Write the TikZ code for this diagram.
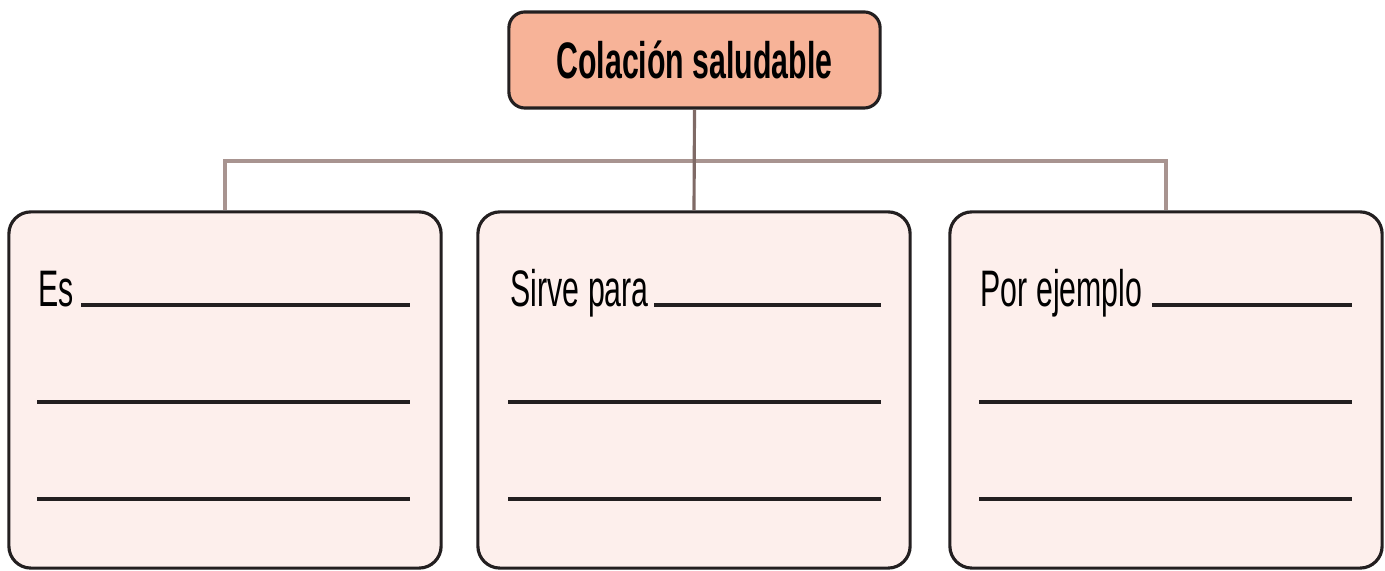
\documentclass[tikz,border=0pt]{standalone}
\usepackage{fontspec}
\setmainfont[FakeStretch=0.59]{Liberation Sans}
\usepackage{tikz}

\definecolor{salmon}{HTML}{F7B398}
\definecolor{blush}{HTML}{FDEFEC}
\definecolor{ink}{HTML}{231F20}
\definecolor{stem}{HTML}{7F6A66}
\definecolor{bar}{HTML}{A89490}

\begin{document}
\begin{tikzpicture}[x=0.01cm, y=-0.01cm,
	titlebox/.style={rectangle, rounded corners=0.16cm, draw=ink, line width=0.9pt, fill=salmon, minimum width=3.71cm, minimum height=0.96cm, inner sep=0pt, font=\fontsize{14.6}{16}\selectfont\bfseries},
	card/.style={rectangle, rounded corners=0.22cm, draw=ink, line width=0.9pt, fill=blush, minimum width=4.32cm, minimum height=3.56cm, inner sep=0pt},
	label/.style={anchor=base west, inner sep=0pt, font=\fontsize{14.6}{16}\selectfont},
	blank/.style={draw=ink, line width=1pt},
	link/.style={draw=stem, line width=0.9pt}]
			\useasboundingbox (0,0) rectangle (1385,571);
			
			\node[titlebox] (t) at (694.5,60){Colación saludable};
			\node[card] (l) at (225,390){};
			\node[card] (m) at (694,390){};
			\node[card] (r) at (1166,390){};
			\coordinate (j) at (694,161);
			
			\path[link, draw=bar] (l.north) |- (j) -| (r.north);
			\path[link] (t.south) edge (m.north);
			
			\node[label] (es) at (38,307){Es};
			\node[label] (sp) at (510,307){Sirve para};
			\node[label] (pe) at (980,307){Por ejemplo};
			
			\draw[blank] (81,305) -- (410,305);
			\draw[blank] (654,305) -- (881,305);
			\draw[blank] (1152,305) -- (1352,305);
			\foreach \x/\w in {37/410, 508/881, 979/1352}
				\foreach \y in {402,499}
					\draw[blank] (\x,\y) -- (\w,\y);
			\end{tikzpicture}
\end{document}
